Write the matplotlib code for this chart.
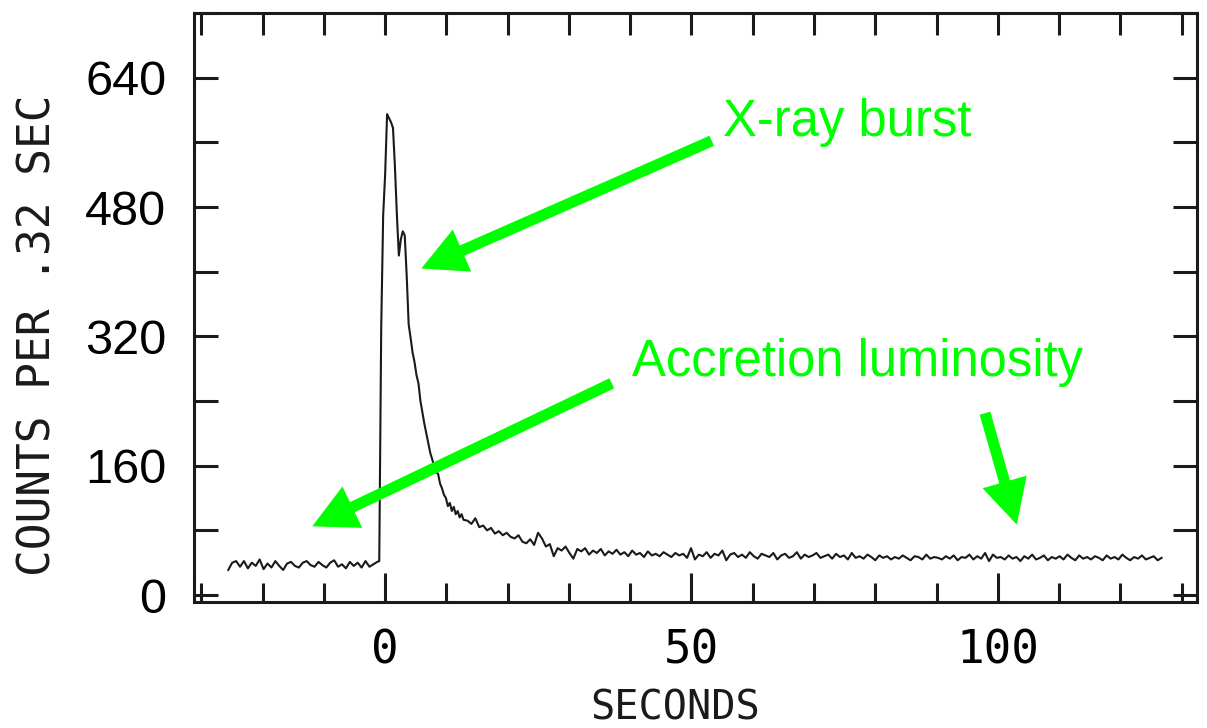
import matplotlib
matplotlib.use('Agg')
import matplotlib.pyplot as plt
import numpy as np
from matplotlib.ticker import MultipleLocator

# ── Data: counts per .32 s bin ───────────────────────────────────
# pre-burst persistent level (0.64 s steps)
t_pre = np.arange(-25.6, -1.0, 0.64)
c_pre = [31, 40, 42, 35, 42, 33, 40, 36, 44, 32,
         39, 34, 42, 36, 31, 39, 41, 36, 34, 40,
         42, 37, 35, 41, 37, 34, 40, 43, 35, 38,
         33, 41, 36, 40, 34, 42, 35, 38, 41]

# burst rise and fast decay (0.32 s steps)
t_burst = np.arange(-0.96, 12.9, 0.32)
c_burst = [42, 330, 470, 520, 595, 590, 585, 578, 530, 470,
           420, 440, 450, 445, 395, 335, 318, 300, 288, 272,
           262, 240, 226, 212, 200, 188, 176, 168, 160, 152,
           150, 138, 132, 124, 120, 110, 114, 104, 109, 100,
           104, 96, 100, 93]

# tail and persistent emission (0.64 s steps)
t_post = np.arange(13.44, 126.8, 0.64)
c_post = [92, 88, 95, 84, 86, 80, 83, 76, 79, 74,
          77, 72, 70, 74, 66, 64, 69, 62, 77, 70,
          60, 63, 48, 58, 55, 60, 52, 45, 57, 54,
          58, 50, 55, 52, 57, 49, 54, 51, 56, 50,
          53, 48, 55, 50, 52, 47, 54, 49, 51, 48,
          53, 50, 47, 52, 49, 51, 46, 58, 44, 50,
          48, 53, 46, 51, 49, 55, 43, 50, 52, 47,
          50, 46, 53, 48, 45, 51, 49, 47, 52, 44,
          49, 51, 46, 48, 53, 45, 50, 47, 49, 52,
          46, 48, 50, 45, 51, 47, 49, 44, 52, 46,
          48, 45, 50, 47, 43, 49, 46, 48, 44, 47,
          45, 49, 46, 43, 48, 47, 44, 50, 45, 47,
          46, 44, 48, 45, 49, 43, 47, 46, 50, 44,
          48, 45, 52, 42, 50, 46, 47, 44, 49, 45,
          47, 42, 48, 45, 50, 44, 46, 49, 43, 47,
          45, 48, 44, 50, 46, 43, 49, 45, 47, 44,
          48, 46, 43, 49, 45, 47, 44, 50, 46, 43,
          47, 45, 49, 44, 46, 48, 43, 46]

t_all = np.concatenate([t_pre, t_burst, t_post])
c_all = np.concatenate([c_pre, c_burst, c_post])

x_major = [0, 50, 100]
y_major = [0, 160, 320, 480, 640]

GREEN = '#00ff00'
INK = '#1a1a1a'

# ── Figure ───────────────────────────────────────────────────────
fig = plt.figure(figsize=(12.07, 7.28), dpi=100, facecolor='white')
ax = fig.add_axes([0.1607, 0.173, 0.831, 0.809])

ax.plot(t_all, c_all, color=INK, lw=1.5)

ax.set_xlim(-31.2, 132.5)
ax.set_ylim(-8.7, 720)

for s in ax.spines.values():
    s.set_linewidth(2.2)
    s.set_color(INK)

ax.set_xticks(x_major)
ax.xaxis.set_minor_locator(MultipleLocator(10))
ax.set_yticks(y_major)
ax.yaxis.set_minor_locator(MultipleLocator(80))

ax.tick_params(axis='x', which='major', direction='in', length=21, width=2.2,
               pad=19, color=INK)
ax.tick_params(axis='x', which='minor', direction='in', length=14, width=2.2,
               color=INK)
ax.tick_params(axis='y', which='both', direction='in', length=17, width=2.2,
               left=True, right=True, pad=20, color=INK)

for lbl in ax.get_xticklabels():
    lbl.set_fontfamily('DejaVu Sans Mono')
    lbl.set_fontsize(33)
for lbl in ax.get_yticklabels():
    lbl.set_fontfamily('Liberation Sans')
    lbl.set_fontsize(35)

# top edge: uniform ticks every 10 s
top = ax.secondary_xaxis('top')
top.set_xticks(np.arange(-30, 131, 10))
top.tick_params(direction='in', length=16, width=2.2, labeltop=False, color=INK)
top.spines['top'].set_visible(False)

# axis titles
fig.text(38 / 1207, 1 - 335 / 728, 'COUNTS PER .32 SEC', rotation=90,
         ha='center', va='center', family='DejaVu Sans Mono', fontsize=32,
         color=INK)
fig.text(675 / 1207, 1 - 708 / 728, 'SECONDS', ha='center', va='center',
         family='DejaVu Sans Mono', fontsize=29, color=INK)

# ── Green annotations ────────────────────────────────────────────
arrow = dict(arrowstyle='simple,head_length=3.2,head_width=3.3,tail_width=0.8',
             color=GREEN, lw=0, shrinkA=0, shrinkB=0, mutation_scale=10)

ax.text(55.2, 568, 'X-ray burst', color=GREEN, fontsize=36.5,
        family='Liberation Sans', ha='left', va='baseline')
ax.annotate('', xy=(5.9, 404), xytext=(53.3, 562), arrowprops=arrow)

ax.text(40.3, 271, 'Accretion luminosity', color=GREEN, fontsize=36.5,
        family='Liberation Sans', ha='left', va='baseline')
ax.annotate('', xy=(-11.9, 85), xytext=(37.0, 262), arrowprops=arrow)
ax.annotate('', xy=(103.1, 87), xytext=(97.9, 225), arrowprops=arrow)

fig.savefig('out.png', dpi=100, facecolor='white')
plt.close(fig)
